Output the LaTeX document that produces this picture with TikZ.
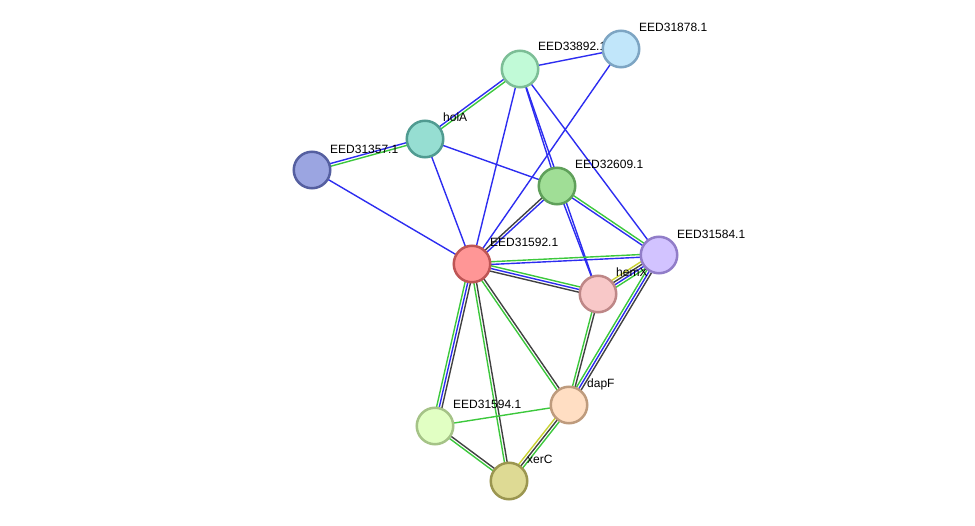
\documentclass[tikz,border=0pt]{standalone}
\usepackage{fontspec}
\setmainfont{Liberation Sans}
\usetikzlibrary{calc}
\pgfdeclarelayer{bg}
\pgfsetlayers{bg,main}
\definecolor{eg}{RGB}{60,200,60}
\definecolor{eb}{RGB}{45,45,240}
\definecolor{ek}{RGB}{65,65,65}
\definecolor{ey}{RGB}{200,210,50}
\definecolor{fA}{RGB}{193,250,215}\definecolor{sA}{RGB}{124,190,150}
\definecolor{fB}{RGB}{193,230,250}\definecolor{sB}{RGB}{125,165,195}
\definecolor{fC}{RGB}{150,222,210}\definecolor{sC}{RGB}{80,155,145}
\definecolor{fD}{RGB}{155,165,225}\definecolor{sD}{RGB}{85,95,160}
\definecolor{fE}{RGB}{160,222,150}\definecolor{sE}{RGB}{95,160,90}
\definecolor{fF}{RGB}{255,150,150}\definecolor{sF}{RGB}{190,85,85}
\definecolor{fG}{RGB}{210,195,255}\definecolor{sG}{RGB}{145,125,200}
\definecolor{fH}{RGB}{248,200,200}\definecolor{sH}{RGB}{190,135,135}
\definecolor{fI}{RGB}{255,222,195}\definecolor{sI}{RGB}{190,155,125}
\definecolor{fJ}{RGB}{225,255,195}\definecolor{sJ}{RGB}{165,195,135}
\definecolor{fK}{RGB}{222,218,148}\definecolor{sK}{RGB}{155,150,80}
\newcommand\lnk[4]{\draw[line width=1.4pt,#4] ($(#1.center)!#3!90:(#2.center)$) -- ($(#2.center)!#3!-90:(#1.center)$);}
\newcommand\eone[3]{\lnk{#1}{#2}{0pt}{#3}}
\newcommand\etwo[4]{\lnk{#1}{#2}{-1.35pt}{#3}\lnk{#1}{#2}{1.35pt}{#4}}
\newcommand\ethree[5]{\lnk{#1}{#2}{-2.7pt}{#3}\lnk{#1}{#2}{0pt}{#4}\lnk{#1}{#2}{2.7pt}{#5}}
\newcommand\efour[6]{\lnk{#1}{#2}{-4.05pt}{#3}\lnk{#1}{#2}{-1.35pt}{#4}\lnk{#1}{#2}{1.35pt}{#5}\lnk{#1}{#2}{4.05pt}{#6}}
\begin{document}
\begin{tikzpicture}[x=1pt,y=-1pt,
  prot/.style={circle,line width=2.5pt,minimum size=36.5pt,inner sep=0pt},
  lab/.style={anchor=west,font=\fontsize{12}{14}\selectfont,inner sep=0pt}]
\useasboundingbox (0,0) rectangle (975,526);
% labels
\node[lab] (lA) at (538,46) {EED33892.1};
\node[lab] (lB) at (639,27) {EED31878.1};
\node[lab] (lC) at (443,117) {holA};
\node[lab] (lD) at (330,149) {EED31357.1};
\node[lab] (lE) at (575,164) {EED32609.1};
\node[lab] (lF) at (490,242) {EED31592.1};
\node[lab] (lG) at (677,234) {EED31584.1};
\node[lab] (lH) at (616,272) {hemX};
\node[lab] (lI) at (587,384) {dapF};
\node[lab] (lJ) at (453,404) {EED31594.1};
\node[lab] (lK) at (527,459) {xerC};
% proteins
\node[prot,fill=fA,draw=sA] (A) at (520,69) {};
\node[prot,fill=fB,draw=sB] (B) at (621,49) {};
\node[prot,fill=fC,draw=sC] (C) at (425,139) {};
\node[prot,fill=fD,draw=sD] (D) at (312,170) {};
\node[prot,fill=fE,draw=sE] (E) at (557,186) {};
\node[prot,fill=fF,draw=sF] (F) at (472,264) {};
\node[prot,fill=fG,draw=sG] (G) at (659,255) {};
\node[prot,fill=fH,draw=sH] (H) at (598,294) {};
\node[prot,fill=fI,draw=sI] (I) at (569,405) {};
\node[prot,fill=fJ,draw=sJ] (J) at (435,426) {};
\node[prot,fill=fK,draw=sK] (K) at (509,481) {};
\begin{pgfonlayer}{bg}
\eone{A}{B}{eb}
\etwo{C}{A}{eg}{eb}
\eone{A}{F}{eb}
\eone{A}{E}{eb}
\eone{E}{H}{eb}
\eone{A}{H}{eb}
\eone{A}{G}{eb}
\eone{B}{F}{eb}
\etwo{D}{C}{eg}{eb}
\eone{C}{F}{eb}
\eone{C}{E}{eb}
\eone{D}{F}{eb}
\etwo{E}{F}{ek}{eb}
\etwo{E}{G}{eb}{eg}
\etwo{F}{G}{eb}{eg}
\ethree{F}{H}{ek}{eb}{eg}
\ethree{F}{J}{eg}{eb}{ek}
\etwo{F}{K}{eg}{ek}
\etwo{F}{I}{eg}{ek}
\efour{H}{G}{eg}{eb}{ek}{ey}
\etwo{H}{I}{eg}{ek}
\ethree{G}{I}{eg}{eb}{ek}
\eone{I}{J}{eg}
\ethree{I}{K}{ey}{ek}{eg}
\etwo{J}{K}{eg}{ek}
\end{pgfonlayer}
\end{tikzpicture}
\end{document}
